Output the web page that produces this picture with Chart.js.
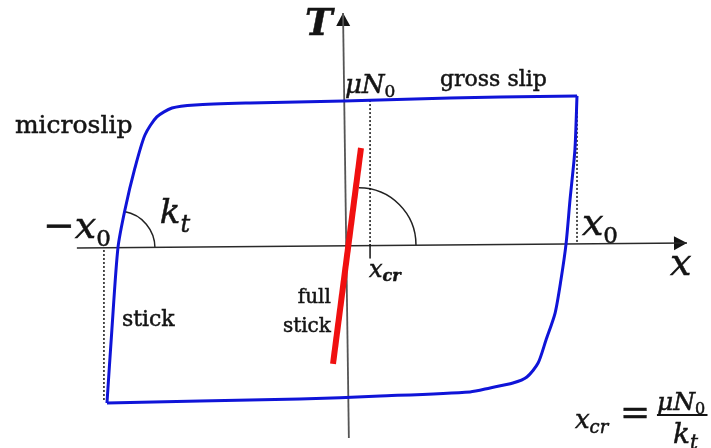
<!DOCTYPE html>
<html>
<head>
<meta charset="utf-8">
<script src="https://cdn.jsdelivr.net/npm/chart.js@4.4.1/dist/chart.umd.min.js"></script>
<style>
  body { margin: 0; background: #fff; }
  #wrap { width: 711px; height: 448px; }
</style>
</head>
<body>
<div id="wrap"><canvas id="loop"></canvas></div>
<script>
/* Friction hysteresis loop: tangential force T (units of muN0) vs displacement x (units of x0) */

// loading branch, from -x0 up through microslip to gross slip
const loadX = [-1.017, -0.996, -0.970, -0.940, -0.897, -0.854, -0.803, -0.738, -0.639, -0.403, 0.000, 0.455, 0.670, 1.000];
const loadT = [-1.061, -0.568, -0.014, 0.243, 0.527, 0.750, 0.872, 0.932, 0.953, 0.966, 0.980, 1.000, 1.007, 1.014];

// unloading branch, from x0 back down to -x0
const unloadX = [1.000, 0.991, 0.970, 0.953, 0.931, 0.906, 0.867, 0.833, 0.785, 0.725, 0.627, 0.541, 0.155, -0.189, -0.618, -1.017];
const unloadT = [1.014, 0.649, 0.311, 0.014, -0.230, -0.453, -0.635, -0.791, -0.885, -0.926, -0.959, -0.986, -1.014, -1.034, -1.047, -1.061];

// full stick line (slope k_t)
const stickX = [-0.047, 0.073];
const stickT = [-0.797, 0.662];

// axes
const axisXx = [-1.146, 1.472];
const axisXy = [-0.014, 0.020];
const axisTx = [0.021, -0.004];
const axisTy = [-1.297, 1.574];

// dotted guides at x0, -x0 and x_cr, plus the x_cr tick
const guideX0x = [1.000, 1.000];
const guideX0y = [1.014, 0.014];
const guideMx0x = [-1.030, -1.030];
const guideMx0y = [-0.027, -1.040];
const guideCrx = [0.112, 0.112];
const guideCry = [0.986, 0.007];
const tickCrx = [0.112, 0.112];
const tickCry = [0.007, -0.081];

const pts = (xs, ys) => xs.map((x, i) => ({ x: x, y: ys[i] }));

const SERIF = '"DejaVu Serif", serif';
const INK = '#141414';

function line(xs, ys, color, width, dash, order, tension) {
  return {
    data: pts(xs, ys),
    showLine: true,
    borderColor: color,
    borderWidth: width,
    borderDash: dash || [],
    pointRadius: 0,
    tension: tension || 0,
    order: order
  };
}

// draw runs of text one after the other: [text, font, baseline shift]
function runs(ctx, x, y, parts) {
  let cx = x;
  parts.forEach(p => {
    ctx.font = p[1];
    ctx.fillText(p[0], cx, y + (p[2] || 0));
    ctx.strokeText(p[0], cx, y + (p[2] || 0));
    cx += ctx.measureText(p[0]).width;
  });
}

const annotations = {
  id: 'annotations',
  beforeDatasetsDraw(chart) {
    const ctx = chart.ctx;
    const sx = chart.scales.x, sy = chart.scales.y;
    const px = v => sx.getPixelForValue(v);
    const py = v => sy.getPixelForValue(v);

    // arrow heads on both axes
    function arrow(x0, y0, x1, y1) {
      const ax = px(x1), ay = py(y1);
      const ang = Math.atan2(ay - py(y0), ax - px(x0));
      ctx.save();
      ctx.translate(ax, ay);
      ctx.rotate(ang);
      ctx.beginPath();
      ctx.moveTo(0, 0);
      ctx.lineTo(-13, -7);
      ctx.lineTo(-13, 7);
      ctx.closePath();
      ctx.fillStyle = INK;
      ctx.fill();
      ctx.restore();
    }
    arrow(axisXx[0], axisXy[0], axisXx[1], axisXy[1]);
    arrow(axisTx[0], axisTy[0], axisTx[1], axisTy[1]);

    // angle arcs marking the stiffness k_t
    ctx.save();
    ctx.strokeStyle = '#222';
    ctx.lineWidth = 1.5;
    ctx.beginPath();
    ctx.arc(px(-0.970), py(-0.014), px(0.159) - px(0), -80 * Math.PI / 180, 0);
    ctx.stroke();
    ctx.beginPath();
    ctx.arc(px(0.064), py(0.007), px(0.245) - px(0), -Math.PI / 2, 0);
    ctx.stroke();
    ctx.restore();
  },
  afterDatasetsDraw(chart) {
    const ctx = chart.ctx;
    const sx = chart.scales.x, sy = chart.scales.y;
    const px = v => sx.getPixelForValue(v);
    const py = v => sy.getPixelForValue(v);

    ctx.save();
    ctx.fillStyle = INK;
    ctx.strokeStyle = INK;
    ctx.lineWidth = 0.5;
    ctx.textBaseline = 'alphabetic';
    ctx.textAlign = 'left';

    runs(ctx, px(-0.167), py(1.426), [['T', 'italic bold 37px ' + SERIF]]);
    runs(ctx, px(0.004), py(1.034), [['\u03bcN', 'italic 26px ' + SERIF], ['0', '17px ' + SERIF, 4]]);
    runs(ctx, px(0.412), py(1.081), [['gross slip', '22px ' + SERIF]]);
    runs(ctx, px(-1.412), py(0.764), [['microslip', '25px ' + SERIF]]);
    runs(ctx, px(-1.292), py(0.054), [['\u2212', '38px ' + SERIF], ['x', 'italic 38px ' + SERIF], ['0', '23px ' + SERIF, 8]]);
    runs(ctx, px(-0.790), py(0.155), [['k', 'italic 34px ' + SERIF], ['t', 'italic 24px ' + SERIF, 9]]);
    runs(ctx, px(1.021), py(0.074), [['x', 'italic 38px ' + SERIF], ['0', '23px ' + SERIF, 8]]);
    runs(ctx, px(1.399), py(-0.196), [['x', 'italic 38px ' + SERIF]]);
    runs(ctx, px(0.107), py(-0.209), [['x', 'italic 24px ' + SERIF], ['cr', 'italic bold 16px ' + SERIF, 4]]);
    runs(ctx, px(-0.953), py(-0.541), [['stick', '22px ' + SERIF]]);

    ctx.textAlign = 'right';
    ctx.font = '20px ' + SERIF;
    ['full', 'stick'].forEach((w, i) => {
      const yy = py(i ? -0.581 : -0.385);
      ctx.fillText(w, px(-0.056), yy);
      ctx.strokeText(w, px(-0.056), yy);
    });
    ctx.textAlign = 'left';

    // x_cr = muN0 / k_t
    runs(ctx, px(0.991), py(-1.230), [['x', 'italic 26px ' + SERIF], ['cr', 'italic 18px ' + SERIF, 5]]);
    runs(ctx, px(1.185), py(-1.203), [['=', '36px ' + SERIF]]);
    runs(ctx, px(1.343), py(-1.108), [['\u03bcN', 'italic 25px ' + SERIF], ['0', '16px ' + SERIF, 4]]);
    runs(ctx, px(1.412), py(-1.331), [['k', 'italic 28px ' + SERIF], ['t', 'italic 20px ' + SERIF, 6]]);
    ctx.fillRect(px(1.343), py(-1.142) - 1, px(1.56) - px(1.343), 2);
    ctx.restore();
  }
};

new Chart(document.getElementById('loop'), {
  type: 'scatter',
  data: {
    datasets: [
      line(stickX, stickT, '#f01010', 6, null, 0),
      line(loadX, loadT, '#0f14d8', 3, null, 1, 0.25),
      line(unloadX, unloadT, '#0f14d8', 3, null, 1, 0.25),
      line(tickCrx, tickCry, INK, 1.5, null, 2),
      line(guideX0x, guideX0y, INK, 1.5, [2, 2], 2),
      line(guideMx0x, guideMx0y, INK, 1.5, [2, 2], 2),
      line(guideCrx, guideCry, INK, 1.5, [2, 2], 2),
      line(axisXx, axisXy, '#2a2a2a', 1.5, null, 3),
      line(axisTx, axisTy, '#555', 1.8, null, 3)
    ]
  },
  options: {
    responsive: true,
    maintainAspectRatio: false,
    animation: false,
    layout: { padding: 0 },
    plugins: { legend: { display: false }, tooltip: { enabled: false } },
    scales: {
      x: { type: 'linear', display: false, min: -1.476, max: 1.575 },
      y: { type: 'linear', display: false, min: -1.365, max: 1.662 }
    },
    elements: { line: { borderCapStyle: 'butt', borderJoinStyle: 'round' } }
  },
  plugins: [annotations]
});
</script>
</body>
</html>
